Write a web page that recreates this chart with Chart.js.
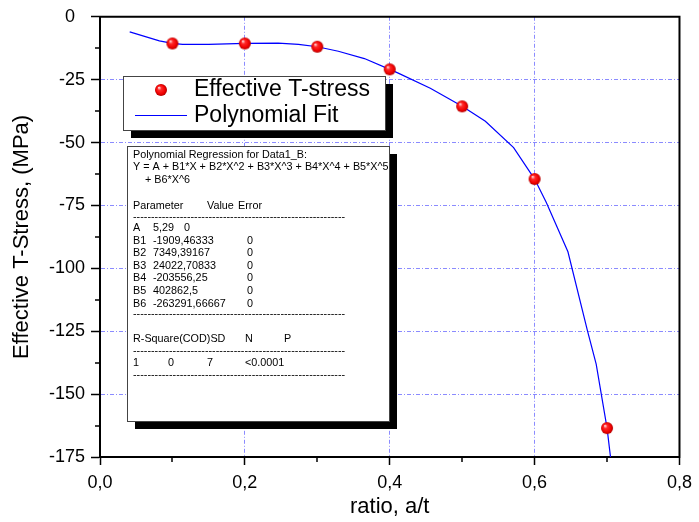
<!DOCTYPE html>
<html>
<head>
<meta charset="utf-8">
<title>Effective T-stress vs ratio</title>
<script src="https://cdn.jsdelivr.net/npm/chart.js@4.4.1/dist/chart.umd.min.js"></script>
<style>
  html, body { margin: 0; padding: 0; background: #fff; }
  #chart { display: block; }
</style>
</head>
<body>
<canvas id="chart" width="699" height="522"></canvas>
<script>
/* ===============================
   DATA
================================ */
const ratio = [0.1, 0.2, 0.3, 0.4, 0.5, 0.6, 0.7];
const tStress = [-10.6, -10.6, -11.9, -20.9, -35.6, -64.5, -163.5];

// polynomial fit curve
const fitRatio = [0.041, 0.082, 0.1, 0.114, 0.15, 0.2, 0.246, 0.274, 0.3, 0.329, 0.365, 0.4,
  0.411, 0.456, 0.5, 0.532, 0.571, 0.6, 0.616, 0.646, 0.673, 0.685, 0.7, 0.706];
const fitStress = [-6.0, -9.6, -10.6, -11.0, -11.0, -10.6, -10.5, -11.0, -11.9, -13.7, -16.6, -20.9,
  -22.3, -28.4, -35.6, -41.5, -52.0, -64.5, -73.7, -93.4, -124.9, -138.1, -163.5, -178];

const paramNames = ['A', 'B1', 'B2', 'B3', 'B4', 'B5', 'B6'];
const paramValues = ['5,29', '-1909,46333', '7349,39167', '24022,70833', '-203556,25', '402862,5', '-263291,66667'];
const paramErrors = ['0', '0', '0', '0', '0', '0', '0'];
const statHeaders = ['R-Square(COD)SD', 'N', 'P'];
const statValues = ['1', '0', '7', '<0.0001'];

const FONT = '"Liberation Sans", Arial, sans-serif';
const GRID_BLUE = 'rgba(90,90,255,0.7)';

/* ===============================
   HELPERS
================================ */
function makeBall(r) {
  const s = r * 2 + 2;
  const c = document.createElement('canvas');
  c.width = s;
  c.height = s;
  const g = c.getContext('2d');
  const cx = s / 2, cy = s / 2;
  const grad = g.createRadialGradient(cx - r * 0.35, cy - r * 0.4, r * 0.05, cx, cy, r);
  grad.addColorStop(0, '#ffe0e0');
  grad.addColorStop(0.3, '#ff2a2a');
  grad.addColorStop(0.75, '#f00000');
  grad.addColorStop(1, '#b00000');
  g.fillStyle = grad;
  g.beginPath();
  g.arc(cx, cy, r, 0, Math.PI * 2);
  g.fill();
  return c;
}

const ball = makeBall(6);

function comma(v) {
  return v.toFixed(1).replace('.', ',');
}

function shadowBox(ctx, l, t, r, b) {
  ctx.fillStyle = '#000';
  ctx.fillRect(l + 8, t + 8, r - l, b - t);
  ctx.fillStyle = '#fff';
  ctx.fillRect(l, t, r - l, b - t);
  ctx.strokeStyle = '#444';
  ctx.lineWidth = 1;
  ctx.strokeRect(l + 0.5, t + 0.5, r - l, b - t);
}

function dashLine(ctx, x, y, toX) {
  let s = '-';
  while (ctx.measureText(s + '-').width <= toX - x) s += '-';
  ctx.fillText(s, x, y);
}

/* ===============================
   PLUGINS
================================ */
const frame = {
  id: 'frame',
  afterDraw(chart) {
    const { ctx, chartArea: a } = chart;
    const xs = chart.scales.x, ys = chart.scales.y;
    ctx.save();
    ctx.strokeStyle = '#000';
    ctx.lineWidth = 2;
    ctx.beginPath();
    ctx.moveTo(a.left - 1, a.top);
    ctx.lineTo(a.right, a.top);
    ctx.lineTo(a.right, a.bottom + 1);
    ctx.stroke();

    // minor ticks
    ctx.lineWidth = 1.5;
    ctx.beginPath();
    [0.1, 0.3, 0.5, 0.7].forEach((v) => {
      const px = Math.round(xs.getPixelForValue(v));
      ctx.moveTo(px, a.bottom);
      ctx.lineTo(px, a.bottom + 5);
    });
    for (let v = -12.5; v > -175; v -= 25) {
      const py = Math.round(ys.getPixelForValue(v));
      ctx.moveTo(a.left, py);
      ctx.lineTo(a.left - 5, py);
    }
    ctx.stroke();
    ctx.restore();
  },
};

const boxes = {
  id: 'boxes',
  afterDraw(chart) {
    const { ctx } = chart;
    const fit = chart.data.datasets[0];
    const pts = chart.data.datasets[1];
    ctx.save();

    // legend
    shadowBox(ctx, 123, 76, 385, 130);
    ctx.drawImage(ball, 161 - ball.width / 2, 90 - ball.height / 2);
    ctx.strokeStyle = fit.borderColor;
    ctx.lineWidth = 1.2;
    ctx.beginPath();
    ctx.moveTo(135, 115.5);
    ctx.lineTo(187, 115.5);
    ctx.stroke();
    ctx.fillStyle = '#000';
    ctx.font = '23px ' + FONT;
    ctx.textBaseline = 'middle';
    ctx.fillText(pts.label, 194, 90);
    ctx.fillText(fit.label, 194, 116);

    // regression results
    shadowBox(ctx, 127, 146, 389, 421);
    ctx.fillStyle = '#000';
    ctx.font = '10.8px ' + FONT;
    ctx.fillText('Polynomial Regression for Data1_B:', 133, 155);
    ctx.fillText('Y = A + B1*X + B2*X^2 + B3*X^3 + B4*X^4 + B5*X^5', 133, 167);
    ctx.fillText('+ B6*X^6', 145, 180);
    ctx.fillText('Parameter', 133, 206);
    ctx.fillText('Value', 207, 206);
    ctx.fillText('Error', 238, 206);
    dashLine(ctx, 133, 217, 347);
    paramNames.forEach((name, i) => {
      const y = 228 + i * 12.6;
      ctx.fillText(name, 133, y);
      ctx.fillText(paramValues[i], 153, y);
      const end = 153 + ctx.measureText(paramValues[i]).width;
      let ex = end < 178 ? 184 : 247;
      if (end > 240) ex = end + 4;
      ctx.fillText(paramErrors[i], ex, y);
    });
    dashLine(ctx, 133, 314, 347);
    ctx.fillText(statHeaders[0], 133, 339);
    ctx.fillText(statHeaders[1], 245, 339);
    ctx.fillText(statHeaders[2], 284, 339);
    dashLine(ctx, 133, 351, 347);
    [133, 168, 207, 245].forEach((x, i) => ctx.fillText(statValues[i], x, 363));
    dashLine(ctx, 133, 375, 347);
    ctx.restore();
  },
};

/* ===============================
   CHART
================================ */
const gridColor = (edgeMin, edgeMax) => (c) => {
  if (!c.tick) return GRID_BLUE;
  const v = c.tick.value;
  return v <= edgeMin + 1e-6 || v >= edgeMax - 1e-6 ? 'rgba(0,0,0,0)' : GRID_BLUE;
};

new Chart(document.getElementById('chart'), {
  type: 'scatter',
  data: {
    datasets: [
      {
        label: 'Polynomial Fit',
        type: 'line',
        data: fitRatio.map((x, i) => ({ x, y: fitStress[i] })),
        borderColor: '#0000ff',
        borderWidth: 1.2,
        pointRadius: 0,
        tension: 0,
        fill: false,
        order: 2,
      },
      {
        label: 'Effective T-stress',
        data: ratio.map((x, i) => ({ x, y: tStress[i] })),
        pointStyle: ball,
        pointRadius: 6,
        order: 1,
      },
    ],
  },
  options: {
    responsive: false,
    animation: false,
    layout: { padding: { top: 13, right: 15, left: 0, bottom: 0 } },
    plugins: {
      legend: { display: false },
      tooltip: { enabled: false },
    },
    scales: {
      x: {
        type: 'linear',
        min: 0,
        max: 0.8,
        afterFit(s) { s.height = 65; },
        border: { display: true, color: '#000', width: 2, dash: [4, 2, 1, 2] },
        grid: {
          color: gridColor(0, 0.8),
          lineWidth: 1,
          tickColor: '#000',
          tickWidth: 1.5,
          tickLength: 8,
        },
        ticks: {
          stepSize: 0.2,
          padding: 7,
          color: '#000',
          maxRotation: 0,
          autoSkip: false,
          font: { family: FONT, size: 18 },
          callback: (v) => comma(v),
        },
        title: {
          display: true,
          text: 'ratio, a/t',
          color: '#000',
          font: { family: FONT, size: 22 },
          padding: { top: 0, bottom: 2 },
        },
      },
      y: {
        type: 'linear',
        min: -175,
        max: 0,
        afterFit(s) { s.width = 100; },
        border: { display: true, color: '#000', width: 2, dash: [4, 2, 1, 2] },
        grid: {
          color: gridColor(-175, 0),
          lineWidth: 1,
          tickColor: '#000',
          tickWidth: 1.5,
          tickLength: 9,
        },
        ticks: {
          stepSize: 25,
          padding: 6,
          color: '#000',
          font: { family: FONT, size: 18 },
          // Origin puts the zero label a little further left
          callback: (v) => (v === 0 ? '0  ' : String(v)),
        },
        title: {
          display: true,
          text: 'Effective T-Stress, (MPa)',
          color: '#000',
          font: { family: FONT, size: 22 },
          padding: { top: 9, bottom: 0 },
        },
      },
    },
  },
  plugins: [frame, boxes],
});
</script>
</body>
</html>
